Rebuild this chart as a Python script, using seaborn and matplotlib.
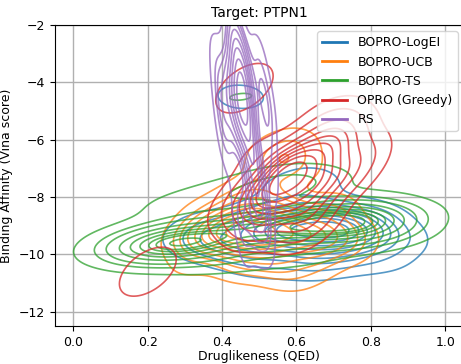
import numpy as np
import pandas as pd
import matplotlib
matplotlib.use("Agg")
import matplotlib.pyplot as plt
import seaborn as sns

methods = ["BOPRO-LogEI", "BOPRO-UCB", "BOPRO-TS", "OPRO (Greedy)", "RS"]
colors = ["#1f77b4", "#ff7f0e", "#2ca02c", "#d62728", "#9467bd"]

# estimated (QED, Vina score, count) samples per method
logei_qed = [0.45, 0.33, 0.38, 0.42, 0.48, 0.52, 0.55, 0.58, 0.60, 0.63, 0.66, 0.68,
             0.70, 0.72, 0.75, 0.78, 0.80, 0.84, 0.50, 0.62, 0.70, 0.78, 0.58, 0.65,
             0.85, 0.88]
logei_vina = [-4.5, -9.6, -9.2, -9.8, -9.1, -9.5, -8.8, -9.3, -9.0, -9.6, -8.7, -9.2,
              -8.9, -9.5, -9.0, -9.3, -8.8, -9.4, -10.2, -10.3, -10.1, -10.0, -7.8, -7.4,
              -10.2, -9.5]
logei_n = [2.2, 3, 4, 4, 5, 6, 6, 6, 6, 6, 6, 6, 6, 6, 5, 5, 4, 3, 3, 3, 3, 2, 2, 2, 1, 1]

ucb_qed = [0.32, 0.36, 0.40, 0.43, 0.46, 0.50, 0.52, 0.55, 0.58, 0.62, 0.66, 0.70,
           0.74, 0.45, 0.55, 0.65, 0.50, 0.55, 0.58, 0.45, 0.30, 0.60, 0.52, 0.62,
           0.70, 0.75, 0.60, 0.35]
ucb_vina = [-9.6, -9.2, -9.5, -8.9, -9.3, -9.0, -9.6, -8.6, -9.4, -9.1, -9.6, -9.2,
            -9.5, -10.3, -10.4, -10.3, -7.8, -7.0, -6.4, -8.2, -10.5, -6.0, -6.5, -7.0,
            -8.4, -9.8, -10.9, -8.5]
ucb_n = [3, 4, 5, 6, 6, 6, 6, 5, 5, 5, 4, 3, 2, 3, 3, 2, 2, 2, 2, 3, 1, 1, 1, 1,
         2, 1, 1, 1]

ts_qed = [0.45, 0.18, 0.22, 0.26, 0.30, 0.35, 0.28, 0.40, 0.45, 0.50, 0.55, 0.60,
          0.65, 0.70, 0.72, 0.75, 0.78, 0.80, 0.82, 0.50, 0.58, 0.62, 0.30, 0.40, 0.60,
          0.15, 0.40, 0.86]
ts_vina = [-4.5, -9.8, -9.6, -9.9, -9.5, -9.7, -9.2, -9.3, -9.0, -9.4, -8.9, -9.2,
           -8.8, -9.0, -8.5, -8.9, -9.2, -8.7, -9.3, -7.8, -7.3, -7.6, -8.3, -10.2, -10.0,
           -9.4, -7.8, -8.8]
ts_n = [1.35, 3, 5, 5, 5, 4, 3, 4, 4, 4, 4, 5, 5, 5, 5, 5, 4, 4, 3, 2, 2, 2, 2, 2, 2,
        1, 1, 1]

opro_qed = [0.50, 0.53, 0.55, 0.57, 0.60, 0.62, 0.65, 0.68, 0.70, 0.58, 0.64, 0.72,
            0.66, 0.48, 0.75, 0.45, 0.72, 0.78, 0.62, 0.50, 0.68, 0.20, 0.46]
opro_vina = [-8.8, -8.0, -7.5, -7.0, -6.8, -7.8, -7.2, -6.4, -7.5, -8.5, -8.7, -6.0,
             -5.8, -8.0, -7.0, -8.3, -5.5, -6.5, -9.0, -6.5, -5.3, -10.6, -4.2]
opro_n = [4, 5, 6, 6, 6, 5, 5, 4, 4, 4, 3, 3, 2, 3, 2, 2, 1.5, 1.5, 2, 1, 1, 2.4, 2.45]

rs_qed = [0.45, 0.44, 0.43, 0.46, 0.44, 0.47, 0.48, 0.49, 0.50, 0.48, 0.52, 0.45,
          0.42, 0.47, 0.40, 0.52, 0.38, 0.50, 0.41, 0.53, 0.50, 0.46]
rs_vina = [-4.5, -3.0, -2.2, -3.7, -5.2, -5.8, -6.5, -7.2, -8.0, -8.6, -9.0, -8.8,
           -4.0, -4.8, -4.6, -5.0, -3.0, -3.5, -6.0, -7.0, -9.3, -9.3]
rs_n = [10, 4, 2, 5, 5, 4, 3, 3, 3, 3, 2, 2, 3, 4, 3, 3, 1, 2, 2, 2, 1, 1]

series = [
    (logei_qed, logei_vina, logei_n),
    (ucb_qed, ucb_vina, ucb_n),
    (ts_qed, ts_vina, ts_n),
    (opro_qed, opro_vina, opro_n),
    (rs_qed, rs_vina, rs_n),
]

fig = plt.figure(figsize=(4.61, 3.64), dpi=100)
ax = fig.add_axes([0.119, 0.104, 0.887, 0.827])

for name, color, (q, v, n) in zip(methods, colors, series):
    df = pd.DataFrame({"qed": q, "vina": v, "w": n})
    sns.kdeplot(data=df, x="qed", y="vina", weights="w", levels=10,
                color=color, linewidths=1.2, alpha=0.75, bw_adjust=0.8, ax=ax)

ax.set_xlim(-0.05, 1.05)
ax.set_ylim(-12.5, -2)
ax.set_yticks([-12, -10, -8, -6, -4, -2])
ax.set_xticks([0.0, 0.2, 0.4, 0.6, 0.8, 1.0])
ax.grid(True, color="#b0b0b0", linewidth=1)
ax.set_axisbelow(True)
ax.tick_params(labelsize=9)
ax.set_title("Target: PTPN1", fontsize=10)
ax.set_xlabel("Druglikeness (QED)", fontsize=9)
ax.xaxis.set_label_coords(0.5, -0.08)
ax.set_ylabel("Binding Affinity (Vina score)", fontsize=9)

handles = [plt.Line2D([], [], color=c, lw=2) for c in colors]
ax.legend(handles, methods, loc="upper right", fontsize=9)

fig.savefig("out.png", dpi=100)
